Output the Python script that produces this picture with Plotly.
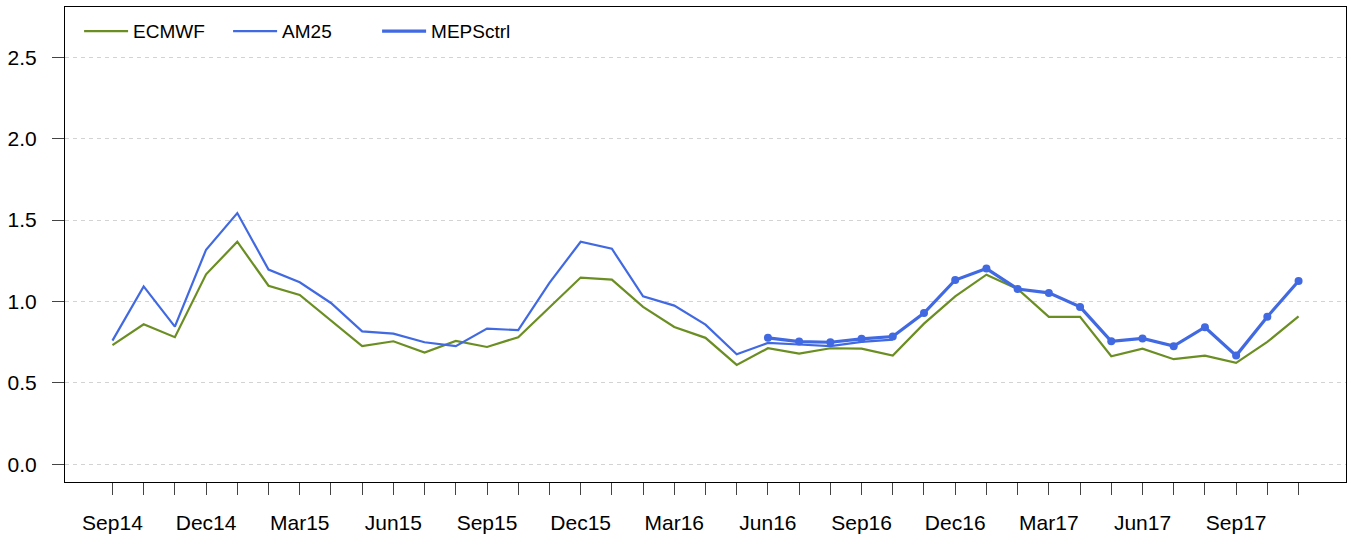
import plotly.graph_objects as go

months = ["Sep14","Oct14","Nov14","Dec14","Jan15","Feb15","Mar15","Apr15","May15","Jun15",
          "Jul15","Aug15","Sep15","Oct15","Nov15","Dec15","Jan16","Feb16","Mar16","Apr16",
          "May16","Jun16","Jul16","Aug16","Sep16","Oct16","Nov16","Dec16","Jan17","Feb17",
          "Mar17","Apr17","May17","Jun17","Jul17","Aug17","Sep17","Oct17","Nov17"]

ecmwf = [0.732,0.860,0.781,1.167,1.367,1.097,1.040,0.885,0.726,0.756,
         0.687,0.758,0.721,0.781,0.967,1.147,1.134,0.967,0.844,0.777,
         0.611,0.713,0.680,0.713,0.711,0.668,0.864,1.032,1.165,1.077,
         0.906,0.906,0.664,0.711,0.646,0.668,0.623,0.752,0.909]

am25_months = months[:26]
am25 = [0.760,1.093,0.846,1.318,1.543,1.196,1.118,0.991,0.817,0.803,
        0.750,0.726,0.834,0.824,1.114,1.367,1.324,1.032,0.975,0.858,
        0.676,0.746,0.736,0.726,0.752,0.766]

meps_months = months[21:]
meps = [0.777,0.754,0.750,0.771,0.785,0.929,1.132,1.202,1.077,1.053,
        0.967,0.756,0.773,0.726,0.842,0.668,0.907,1.126]

label_months = months[::3][:13]
y_ticks = [0.0, 0.5, 1.0, 1.5, 2.0, 2.5]

GREEN = "#6B8E23"
BLUE = "#4169E1"

idx = {m: i for i, m in enumerate(months)}

fig = go.Figure()
fig.add_trace(go.Scatter(x=[idx[m] for m in months], y=ecmwf, mode="lines", name="ECMWF",
                         line=dict(color=GREEN, width=2.2)))
fig.add_trace(go.Scatter(x=[idx[m] for m in am25_months], y=am25, mode="lines", name="AM25",
                         line=dict(color=BLUE, width=2.2)))
fig.add_trace(go.Scatter(x=[idx[m] for m in meps_months], y=meps, mode="lines", name="MEPSctrl",
                         line=dict(color=BLUE, width=3.2)))
fig.add_trace(go.Scatter(x=[idx[m] for m in meps_months], y=meps, mode="markers", showlegend=False,
                         marker=dict(color=BLUE, size=8)))

fig.update_layout(
    width=1353, height=538,
    margin=dict(l=65, r=7, t=7, b=56, autoexpand=False),
    paper_bgcolor="white", plot_bgcolor="white",
    font=dict(family="Liberation Sans, Arial, sans-serif", color="black"),
    showlegend=True,
    legend=dict(orientation="h", x=0.011, y=0.989, xanchor="left", yanchor="top",
                bgcolor="rgba(0,0,0,0)", font=dict(size=19),
                entrywidth=90, entrywidthmode="pixels", itemwidth=44),
)
fig.update_xaxes(
    range=[-1.52, 39.52], automargin=False,
    tickmode="array",
    tickvals=list(range(len(months))),
    ticktext=[m if m in label_months else "" for m in months],
    ticks="outside", ticklen=12, tickcolor="#444", tickwidth=1,
    tickfont=dict(size=21), ticklabelstandoff=10,
    showgrid=False, zeroline=False,
    showline=True, mirror=True, linecolor="black", linewidth=1,
)
fig.update_yaxes(
    range=[-0.108, 2.808], automargin=False,
    tickmode="array", tickvals=y_ticks, ticktext=[f"{v:.1f}" for v in y_ticks],
    ticks="outside", ticklen=12, tickcolor="#444", tickwidth=1,
    tickfont=dict(size=21), ticklabelstandoff=11,
    showgrid=True, gridcolor="#d3d3d3", gridwidth=1, griddash="4px,4px",
    zeroline=False,
    showline=True, mirror=True, linecolor="black", linewidth=1,
)

fig.write_html("out.html", config={"displayModeBar": False})

# remove the browser's default body margin so the figure fills the window exactly
with open("out.html", "r", encoding="utf-8") as f:
    html = f.read()
html = html.replace("<body>", '<body style="margin:0;padding:0;overflow:hidden">', 1)
with open("out.html", "w", encoding="utf-8") as f:
    f.write(html)
